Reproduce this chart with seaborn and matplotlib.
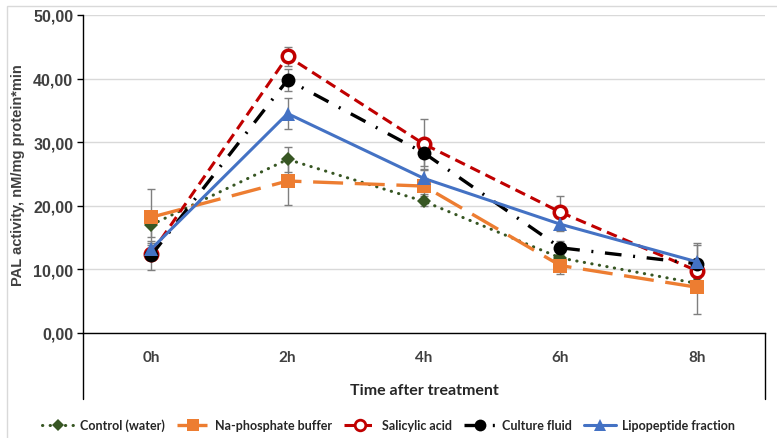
import numpy as np
import pandas as pd
import matplotlib
matplotlib.use('Agg')
import matplotlib.pyplot as plt
from matplotlib.lines import Line2D
from matplotlib.patches import Rectangle
import seaborn as sns

# data
times = ['0h', '2h', '4h', '6h', '8h']
control = [17.0, 27.3, 20.7, 11.8, 7.8]
buffer_ = [18.2, 23.9, 23.1, 10.6, 7.2]
salicylic = [12.5, 43.5, 29.7, 19.0, 9.8]
culture = [12.2, 39.8, 28.3, 13.4, 10.9]
lipopeptide = [13.2, 34.5, 24.3, 17.1, 11.2]

control_err = [1.9, 2.0, 0.8, 0.7, 0.8]
buffer_err = [4.4, 3.7, 1.2, 1.3, 4.2]
salicylic_err = [0.6, 1.5, 4.0, 2.6, 1.0]
culture_err = [2.3, 1.7, 2.0, 1.0, 3.3]
lipopeptide_err = [1.0, 2.4, 1.5, 1.0, 2.6]

labels = ['Control (water)', 'Na-phosphate buffer', 'Salicylic acid',
          'Culture fluid', 'Lipopeptide fraction']

sns.set_style('white')
plt.rcParams['font.family'] = ['Liberation Sans', 'DejaVu Sans']

fig = plt.figure(figsize=(7.77, 4.39), dpi=100)
ax = fig.add_axes([83 / 777, 1 - 334 / 439, (765 - 83) / 777, (334 - 16) / 439])

pos = np.arange(len(times))

styles = [
    dict(values=control, err=control_err, color='#375623', marker='D', ms=7,
         mfc='#375623', mew=0, lw=2.2, ls=(0, (0.1, 2.4)), cap='round'),
    dict(values=buffer_, err=buffer_err, color='#ED7D31', marker='s', ms=10,
         mfc='#ED7D31', mew=0, lw=2.4, ls=(0, (9, 3.5)), cap='butt'),
    dict(values=salicylic, err=salicylic_err, color='#C00000', marker='o', ms=9,
         mfc='white', mew=2.5, lw=2.2, ls=(0, (3.5, 2)), cap='butt'),
    dict(values=culture, err=culture_err, color='black', marker='o', ms=10,
         mfc='black', mew=0, lw=2.4, ls=(0, (5, 3.5, 0.6, 3.5)), cap='butt'),
    dict(values=lipopeptide, err=lipopeptide_err, color='#4472C4', marker='^', ms=10,
         mfc='#4472C4', mew=0, lw=2.2, ls='-', cap='butt'),
]

for s in styles:
    ax.errorbar(pos, s['values'], yerr=s['err'], fmt='none', ecolor='#7f7f7f',
                elinewidth=1, capsize=3, capthick=1, zorder=1)

handles = []
for lab, s in zip(labels, styles):
    df = pd.DataFrame({'t': pos, 'v': s['values']})
    sns.lineplot(data=df, x='t', y='v', ax=ax, color=s['color'], linewidth=s['lw'],
                 linestyle=s['ls'], marker=s['marker'], markersize=s['ms'],
                 markerfacecolor=s['mfc'], markeredgecolor=s['color'],
                 markeredgewidth=s['mew'], dash_capstyle=s['cap'], zorder=3)
    handles.append(Line2D([], [], color=s['color'], linewidth=s['lw'], linestyle=s['ls'],
                          marker=s['marker'], markersize=s['ms'] * 0.85,
                          markerfacecolor=s['mfc'], markeredgecolor=s['color'],
                          markeredgewidth=s['mew'] * 0.8, dash_capstyle=s['cap']))

ax.set_xlim(-0.5, 4.5)
ax.set_ylim(0, 50)
ax.set_yticks(np.arange(0, 51, 10))
ax.set_yticklabels([f'{v:.2f}'.replace('.', ',') for v in np.arange(0, 51, 10)],
                   fontsize=11.5, fontweight='bold', color='#404040')
ax.set_xticks(pos)
ax.set_xticklabels(times, fontsize=11, fontweight='bold', color='#404040', family='Lato')
ax.set_xticks(np.arange(-0.5, 4.6, 1), minor=True)
ax.tick_params(axis='x', which='major', length=0, pad=12)
ax.tick_params(axis='x', which='minor', length=4, width=1, direction='out', color='black')
ax.tick_params(axis='y', length=4, width=1, direction='out', color='black', left=True, pad=3)
ax.yaxis.grid(True, color='#d9d9d9', linewidth=1)
ax.set_axisbelow(True)
for side in ['top', 'right']:
    ax.spines[side].set_visible(False)
for side in ['left', 'bottom']:
    ax.spines[side].set_color('black')
    ax.spines[side].set_linewidth(1)

ax.set_xlabel('Time after treatment', fontsize=11.5, fontweight='bold', family='Lato',
              color='#262626', labelpad=14)
ax.set_ylabel('PAL activity, nM/mg protein*min', fontsize=10.5, fontweight='bold',
              color='#404040', labelpad=6)

# boxed category area below the axis
for x in [83 / 777, 765 / 777]:
    fig.add_artist(Line2D([x, x], [1 - 334 / 439, 1 - 400 / 439], color='black', linewidth=1))

# chart border
fig.add_artist(Rectangle((7 / 777, -0.05), 1.0, 1 - 7 / 439 + 0.05, transform=fig.transFigure,
                         fill=False, edgecolor='#d9d9d9', linewidth=1))

fig.legend(handles, labels, loc='center', bbox_to_anchor=(0.5, 1 - 426 / 439), ncol=5,
           frameon=False, prop={'family': 'Lato', 'size': 9, 'weight': 'bold'},
           handlelength=2.6, handletextpad=0.5, columnspacing=0.9)

fig.savefig('out.png', dpi=100)
